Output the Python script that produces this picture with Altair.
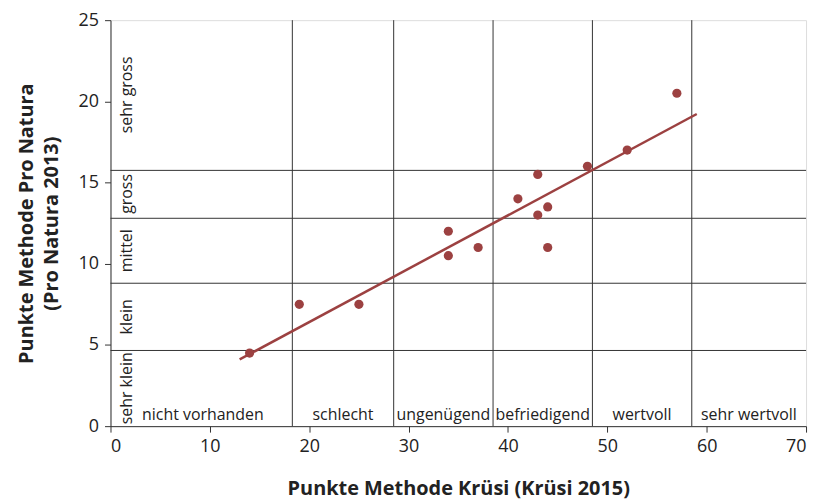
import altair as alt
import pandas as pd

# Scores per site
krusi = [14, 19, 25, 34, 34, 37, 41, 43, 43, 44, 44, 48, 52, 57]
pro_natura = [4.5, 7.5, 7.5, 12, 10.5, 11, 14, 15.5, 13, 13.5, 11, 16, 17, 20.5]

# Class boundaries and class names (Krüsi, x axis)
krusi_bounds = [18.3, 28.5, 38.5, 48.5, 58.5]
krusi_classes = ["nicht vorhanden", "schlecht", "ungenügend", "befriedigend", "wertvoll", "sehr wertvoll"]
krusi_class_mid = [9.3, 23.4, 33.5, 43.5, 53.5, 64.25]

# Class boundaries and class names (Pro Natura, y axis)
pn_bounds = [4.66, 8.8, 12.8, 15.75]
pn_classes = ["sehr klein", "klein", "mittel", "gross", "sehr gross"]
pn_class_mid = [2.33, 6.73, 10.8, 14.3, 20.4]

fit_extent = [13, 59]

FONT = "Open Sans"
RED = "#9c4141"
GRID = "#333333"

pts = pd.DataFrame({"x": krusi, "y": pro_natura})
vb = pd.DataFrame({"x": krusi_bounds})
hb = pd.DataFrame({"y": pn_bounds})
xl = pd.DataFrame({"x": krusi_class_mid, "t": krusi_classes, "y": [0.7] * len(krusi_classes)})
yl = pd.DataFrame({"y": pn_class_mid, "t": pn_classes, "x": [1.67] * len(pn_classes)})

xs = alt.Scale(domain=[0, 70], nice=False)
ys = alt.Scale(domain=[0, 25], nice=False)

xax = alt.Axis(values=list(range(0, 71, 10)), grid=False, tickSize=6, domainColor=GRID,
               tickColor=GRID, labelFontSize=18, labelFont=FONT, labelColor="#222",
               labelPadding=5, title="Punkte Methode Krüsi (Krüsi 2015)", titleFont=FONT,
               titleFontSize=20, titleFontWeight="bold", titleColor="#222", titlePadding=24)
yax = alt.Axis(values=list(range(0, 26, 5)), grid=False, tickSize=6, domainColor=GRID,
               tickColor=GRID, labelFontSize=18, labelFont=FONT, labelColor="#222",
               labelPadding=6, title=["Punkte Methode Pro Natura", "(Pro Natura 2013)"],
               titleFont=FONT, titleFontSize=20, titleFontWeight="bold", titleColor="#222",
               titlePadding=17, titleLineHeight=25)

vrules = alt.Chart(vb).mark_rule(color=GRID, strokeWidth=1).encode(
    x=alt.X("x:Q", scale=xs, axis=xax))
hrules = alt.Chart(hb).mark_rule(color=GRID, strokeWidth=1).encode(
    y=alt.Y("y:Q", scale=ys, axis=yax))

xtext = alt.Chart(xl).mark_text(font=FONT, fontSize=16, color="#222", baseline="middle").encode(
    x=alt.X("x:Q", scale=xs), y=alt.Y("y:Q", scale=ys), text="t:N")
ytext = alt.Chart(yl).mark_text(font=FONT, fontSize=16, color="#222", angle=270,
                                 baseline="middle", align="center").encode(
    x=alt.X("x:Q", scale=xs), y=alt.Y("y:Q", scale=ys), text="t:N")

fit = alt.Chart(pts).transform_regression("x", "y", extent=fit_extent).mark_line(
    color=RED, strokeWidth=2.5).encode(x=alt.X("x:Q", scale=xs), y=alt.Y("y:Q", scale=ys))

dots = alt.Chart(pts).mark_circle(color=RED, size=85, opacity=1).encode(
    x=alt.X("x:Q", scale=xs), y=alt.Y("y:Q", scale=ys))

chart = alt.layer(vrules, hrules, xtext, ytext, fit, dots).properties(
    width=699, height=408,
    autosize=alt.AutoSizeParams(type="none"),
    padding={"left": 103, "top": 11, "right": 10, "bottom": 75},
).configure_view(stroke=GRID, strokeWidth=1).configure(background="white")

chart.save("out.html", embed_options={"renderer": "svg", "actions": False})
